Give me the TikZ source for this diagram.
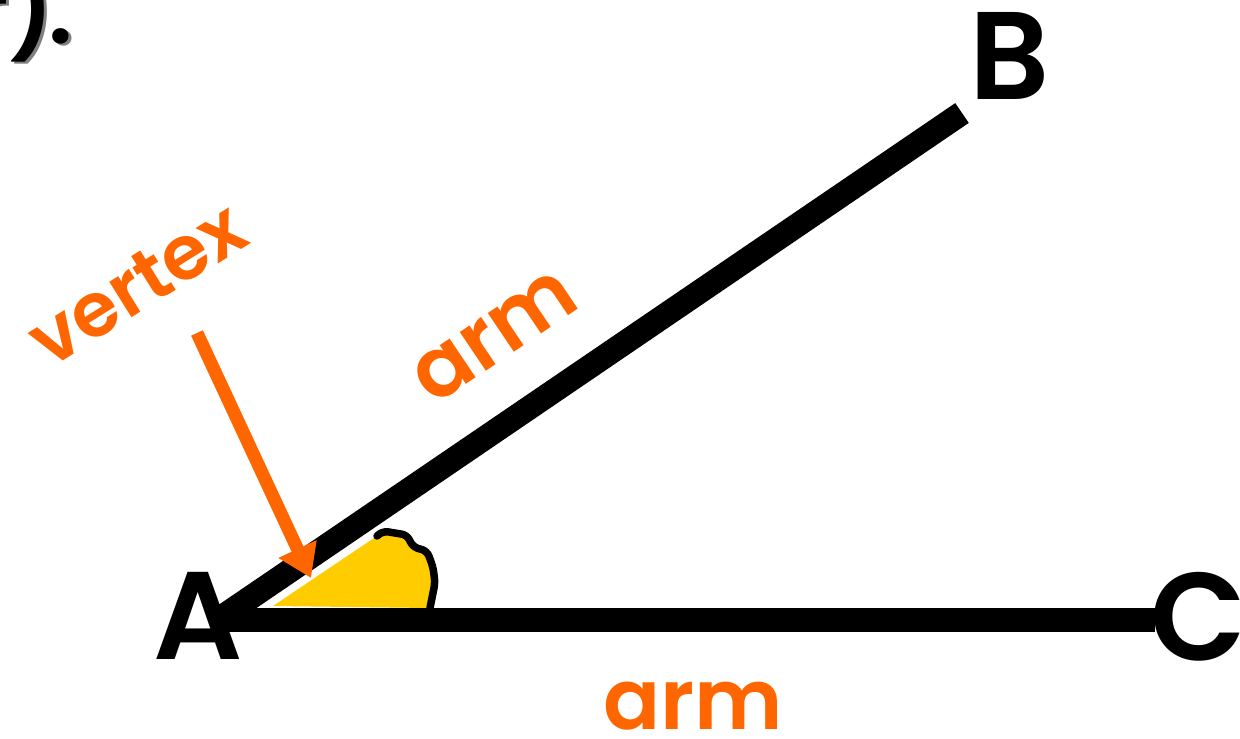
\documentclass[tikz,border=0pt]{standalone}
\usepackage{fontspec}
\setmainfont{Poppins}[BoldFont={Poppins SemiBold}]
\usetikzlibrary{arrows.meta}
\definecolor{armorange}{HTML}{FF6600}
\definecolor{angleyellow}{HTML}{FFCC00}
\tikzset{
    x=0.02cm, y=-0.02cm,
    arm/.style={
        line width=0.48cm,
        black
    },
    letter/.style={
        font=\fontsize{71}{80}\selectfont\bfseries
    },
    armlabel/.style={
        text=armorange,
        font=\fontsize{48}{60}\selectfont\bfseries
    },
    pointer/.style={
        draw=armorange,
        line width=0.26cm,
        -{Triangle[width=0.8cm,length=0.64cm]}
    },
    corner text/.style={
        anchor=base east,
        font=\fontsize{54}{60}\selectfont\bfseries
    }
}

\begin{document}
\begin{tikzpicture}
    \clip (0,0) rectangle (1240,738);
    \useasboundingbox (0,0) rectangle (1240,738);

    \coordinate (a) at (225,620);
    \coordinate (a2) at (222,617);
    \coordinate (b) at (962,113);
    \coordinate (c) at (1155,620);

    % shaded angle
    \fill[angleyellow] (273,606) -- (377,536) -- (383,531) -- (407,535) -- (413,547)
        -- (427,551) -- (433,567) -- (435,583) -- (430,608) -- cycle;
    \draw[line width=0.15cm, line join=round, line cap=round, rounded corners=3pt]
        (377,536) -- (383,531) -- (407,535) -- (413,547) -- (427,551) -- (433,567)
        -- (435,583) -- (430,608);

    % the two arms
    \draw[arm] (a2) -- (b);
    \draw[arm] (a) -- (c);

    \node[letter] (A) at (198,616) {A};
    \node[letter] (B) at (1010,56) {B};
    \node[letter] (C) at (1198,617) {C};

    \node[armlabel, rotate=34] (arm1) at (495,337) {arm};
    \node[armlabel] (arm2) at (693,706) {arm};
    \node[armlabel, rotate=32, font=\fontsize{43}{50}\selectfont\bfseries] (vertex) at (137,284) {vertex};

    \coordinate (vtail) at (197,333);
    \coordinate (vtip) at (311,578);
    \draw[pointer] (vtail) -- (vtip);

    % cut-off text in the corner
    \node[corner text, text=gray] (rshadow) at (82,45) {r)\kern-0.07em.};
    \node[corner text] (rtext) at (79,43) {r)\kern-0.07em.};
\end{tikzpicture}
\end{document}
